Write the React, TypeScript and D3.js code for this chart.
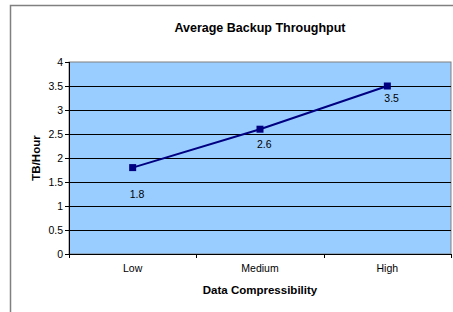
import React from "react";
import * as d3 from "d3";

const categories = ["Low", "Medium", "High"];
const values = [1.8, 2.6, 3.5];
const yTicks = [0, 0.5, 1, 1.5, 2, 2.5, 3, 3.5, 4];
const title = "Average Backup Throughput";
const xTitle = "Data Compressibility";
const yTitle = "TB/Hour";
const labelDy = [30, 19, 16];

export default function App() {
  const W = 453, H = 312;
  const left = 69, right = 451, top = 62, bottom = 254;
  const x = d3.scaleBand<string>().domain(categories).range([left, right]);
  const y = d3.scaleLinear().domain([0, 4]).range([bottom, top]);
  const pts = categories.map((c, i) => [x(c)! + x.bandwidth() / 2, y(values[i])] as [number, number]);
  const line = d3.line()(pts) || "";
  const font = "Arial, 'Liberation Sans', sans-serif";
  const bandTicks = [...categories.map((c) => x(c)!), right];
  return (
    <svg width={W} height={H} style={{ position: "fixed", left: 0, top: 0 }} fontFamily={font}>
      <rect x={0} y={0} width={W} height={H} fill="#fff" />
      <rect x={10.5} y={5.5} width={460} height={330} fill="#fff" stroke="#808080" strokeWidth={1.5} />
      <text x={260} y={32} textAnchor="middle" fontSize={12.5} fontWeight="bold" fill="#000">{title}</text>
      <rect x={left} y={top} width={right - left} height={bottom - top} fill="#99CCFF" stroke="#808080" strokeWidth={1} />
      {yTicks.filter((t) => t > 0 && t < 4).map((t) => (
        <line key={t} x1={left} x2={right} y1={Math.round(y(t)) + 0.5} y2={Math.round(y(t)) + 0.5} stroke="#000" strokeWidth={1} />
      ))}
      <line x1={left + 0.5} x2={left + 0.5} y1={top} y2={bottom + 1} stroke="#000" />
      <line x1={left} x2={right} y1={bottom + 0.5} y2={bottom + 0.5} stroke="#000" />
      {yTicks.map((t) => (
        <g key={t}>
          <line x1={left - 4} x2={left} y1={Math.round(y(t)) + 0.5} y2={Math.round(y(t)) + 0.5} stroke="#000" />
          <text x={left - 6} y={y(t)} dy="0.35em" textAnchor="end" fontSize={10.5} fill="#000">{t}</text>
        </g>
      ))}
      {bandTicks.map((t, i) => (
        <line key={i} x1={Math.round(t) + 0.5} x2={Math.round(t) + 0.5} y1={bottom} y2={bottom + 4} stroke="#000" />
      ))}
      {categories.map((c) => (
        <text key={c} x={x(c)! + x.bandwidth() / 2} y={272} textAnchor="middle" fontSize={10.5} fill="#000">{c}</text>
      ))}
      <text x={260} y={294} textAnchor="middle" fontSize={11.5} fontWeight="bold" fill="#000">{xTitle}</text>
      <text transform={`translate(40,${(top + bottom) / 2}) rotate(-90)`} textAnchor="middle" fontSize={11.5} fontWeight="bold" fill="#000">{yTitle}</text>
      <path d={line} fill="none" stroke="#000080" strokeWidth={2} />
      {pts.map((p, i) => (
        <g key={i}>
          <rect x={p[0] - 3.5} y={p[1] - 3.5} width={7} height={7} fill="#000080" />
          <text x={p[0] - 3} y={p[1] + labelDy[i]} fontSize={10.5} fill="#000">{values[i]}</text>
        </g>
      ))}
    </svg>
  );
}
